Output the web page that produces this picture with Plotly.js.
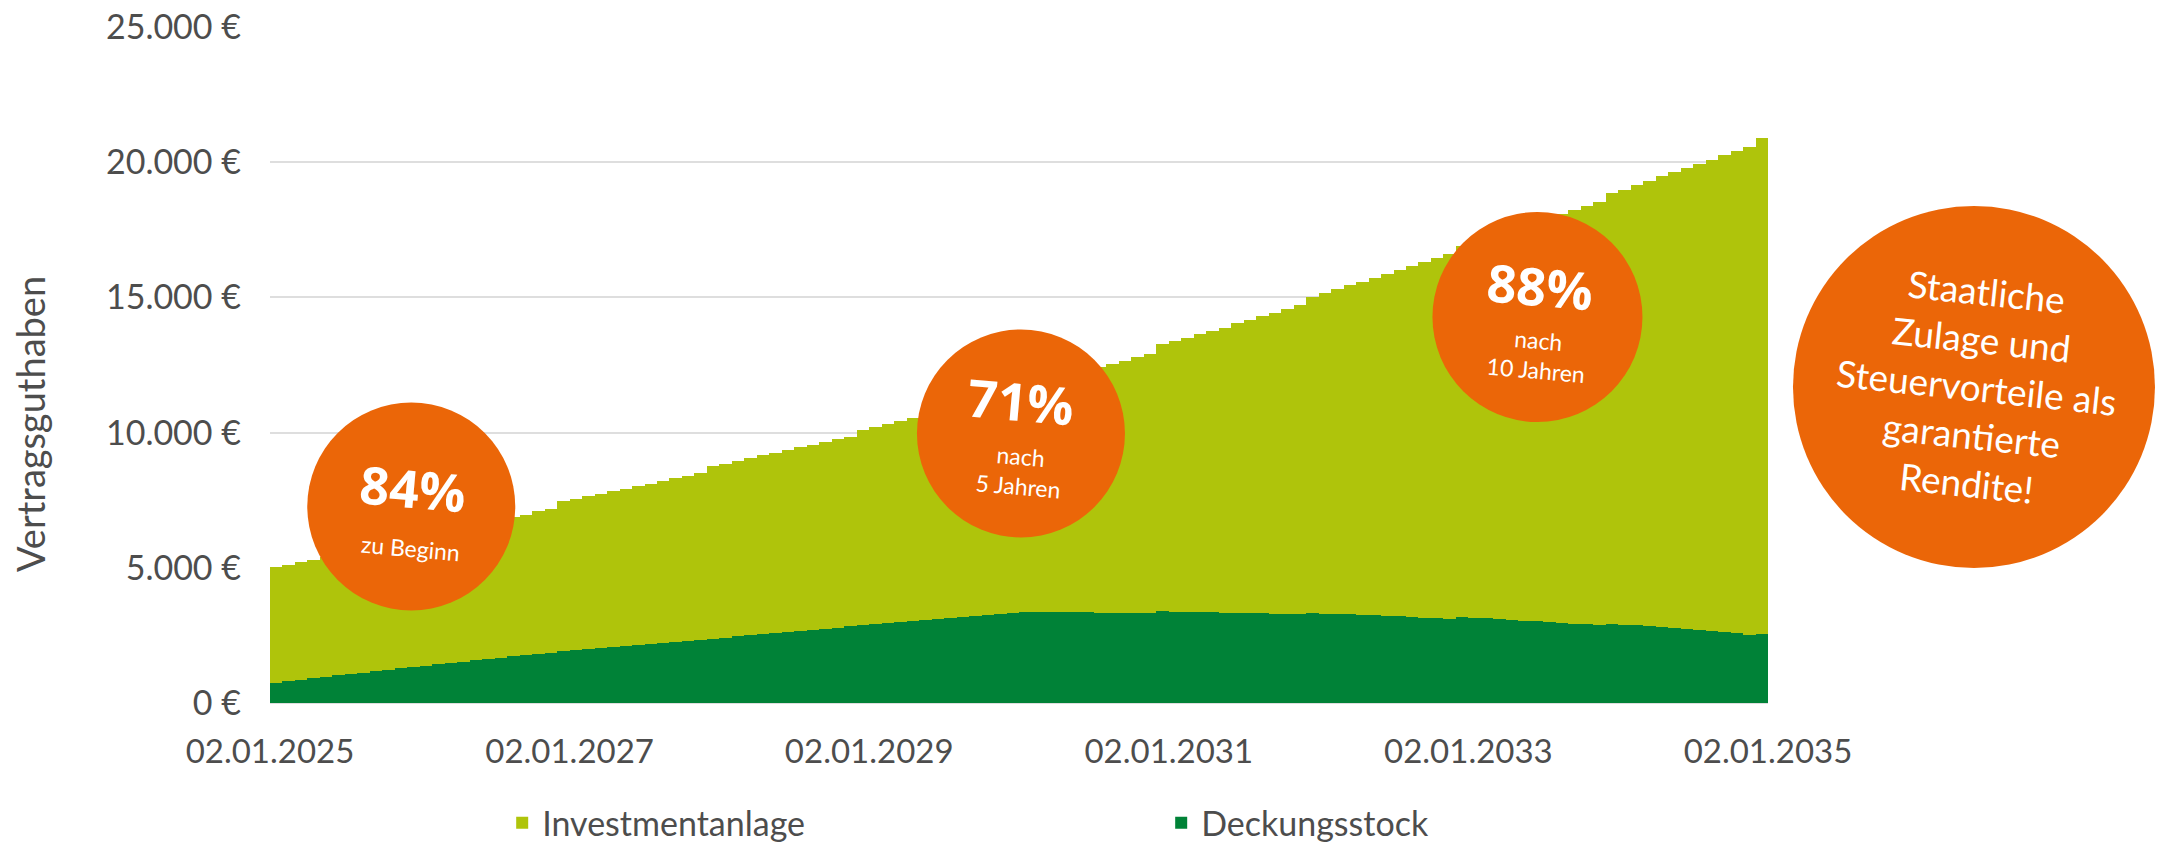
<!DOCTYPE html>
<html><head><meta charset="utf-8">
<script src="https://cdn.plot.ly/plotly-3.0.1.min.js"></script>
<style>html,body{margin:0;padding:0;background:#fff;} #chart{width:2164px;height:843px;}</style>
</head><body><div id="chart"></div>
<script>
// x axis: 120 monthly bars, 02.01.2025 .. 02.01.2035
const tickMonths = [0, 24, 48, 72, 96, 120];
const tickLabels = ["02.01.2025", "02.01.2027", "02.01.2029", "02.01.2031", "02.01.2033", "02.01.2035"];

const yTickValues = [0, 5000, 10000, 15000, 20000, 25000];
const yTickLabels = ["0 €", "5.000 €", "10.000 €", "15.000 €", "20.000 €", "25.000 €"];
const yTitle = "Vertragsguthaben";

const seriesNames = ["Investmentanlage", "Deckungsstock"];

const deckungsstock = [
  751, 800, 862, 911, 960, 1022, 1083, 1120, 1169, 1231, 1280, 1329,
  1379, 1428, 1477, 1526, 1576, 1625, 1674, 1723, 1760, 1810, 1859, 1908,
  1948, 1987, 2026, 2065, 2104, 2143, 2182, 2221, 2260, 2298, 2336, 2376,
  2418, 2460, 2502, 2544, 2585, 2626, 2667, 2708, 2749, 2790, 2830, 2880,
  2920, 2960, 3000, 3040, 3078, 3114, 3150, 3185, 3218, 3250, 3280, 3340,
  3350, 3352, 3353, 3353, 3352, 3350, 3345, 3340, 3335, 3330, 3325, 3385,
  3380, 3372, 3364, 3355, 3346, 3336, 3326, 3315, 3304, 3292, 3280, 3330,
  3305, 3290, 3274, 3257, 3239, 3220, 3200, 3180, 3159, 3137, 3115, 3176,
  3152, 3127, 3101, 3075, 3048, 3020, 2992, 2963, 2934, 2905, 2880, 2930,
  2903, 2872, 2840, 2806, 2772, 2737, 2701, 2664, 2626, 2587, 2530, 2555
];

const investmentanlage = [
  4279, 4320, 4353, 4394, 4432, 4458, 4484, 4534, 4572, 4597, 4635, 4851,
  4888, 4926, 4964, 5002, 5039, 5077, 5115, 5153, 5205, 5275, 5326, 5547,
  5607, 5653, 5714, 5770, 5821, 5877, 5928, 5984, 6045, 6107, 6154, 6384,
  6432, 6485, 6543, 6611, 6655, 6714, 6783, 6842, 6911, 6965, 7025, 7225,
  7280, 7365, 7420, 7490, 7562, 7636, 7710, 7785, 7862, 7940, 8020, 8305,
  8405, 8513, 8622, 8732, 8843, 8955, 9075, 9195, 9320, 9450, 9600, 9890,
  10015, 10123, 10276, 10410, 10539, 10699, 10844, 10980, 11124, 11284, 11444, 11701,
  11862, 12010, 12174, 12327, 12493, 12660, 12817, 12984, 13153, 13323, 13492, 13724,
  13898, 14068, 14239, 14415, 14592, 14770, 14943, 15121, 15298, 15461, 15659, 15930,
  16079, 16295, 16474, 16668, 16849, 17046, 17230, 17426, 17637, 17835, 18050, 18358
];

// bubble labels
const bubbleBig = ["84%", "71%", "88%"];
const bubbleSmall = ["zu Beginn", "nach<br>5 Jahren", "nach<br>10 Jahren"];
const bubbleNote = "Staatliche<br>Zulage und<br>Steuervorteile als<br>garantierte<br>Rendite!";

const monthPos = deckungsstock.map((_, i) => i + 0.5);

const FONT = "Lato, 'Open Sans', sans-serif";
const GRAY = "#4d4d4d";
const ORANGE = "#EB6608";
const LIGHT = "#AFC40B";
const DARK = "#008237";

const traces = [
  {type: "bar", name: seriesNames[1], x: monthPos, y: deckungsstock, width: 1,
   marker: {color: DARK, line: {width: 0}}, hoverinfo: "y+name"},
  {type: "bar", name: seriesNames[0], x: monthPos, y: investmentanlage, width: 1,
   marker: {color: LIGHT, line: {width: 0}}, hoverinfo: "y+name"}
];

// circle placement in pixel-sized shapes anchored in paper coords
const circles = [
  {x: 0.0943, y: 0.2907, r: 104},
  {x: 0.5013, y: 0.3987, r: 104},
  {x: 0.8461, y: 0.5710, r: 105},
  {x: 1.1375, y: 0.4675, r: 181}
];
const shapes = circles.map(c => ({
  type: "circle", xref: "paper", yref: "paper",
  xsizemode: "pixel", ysizemode: "pixel",
  xanchor: c.x, yanchor: c.y,
  x0: -c.r, x1: c.r, y0: -c.r, y1: c.r,
  fillcolor: ORANGE, line: {width: 0}, layer: "above"
}));

const bigPos = [[0.0955, 0.3195], [0.5013, 0.4482], [0.8478, 0.6169]];
const smallPos = [[0.0941, 0.2293], [0.5000, 0.3432], [0.8458, 0.5148]];

const annotations = [];
bubbleBig.forEach((t, i) => annotations.push({
  xref: "paper", yref: "paper", x: bigPos[i][0], y: bigPos[i][1],
  text: t, showarrow: false, textangle: 5,
  font: {family: "'Open Sans', Lato, sans-serif", size: 52, color: "#ffffff", weight: 700},
  xanchor: "center", yanchor: "middle"
}));
bubbleSmall.forEach((t, i) => annotations.push({
  xref: "paper", yref: "paper", x: smallPos[i][0], y: smallPos[i][1],
  text: t, showarrow: false, textangle: 5,
  font: {family: FONT, size: 23, color: "#ffffff"},
  xanchor: "center", yanchor: "middle"
}));
annotations.push({
  xref: "paper", yref: "paper", x: 1.1389, y: 0.4675,
  text: bubbleNote, showarrow: false, textangle: 6,
  font: {family: FONT, size: 37, color: "#ffffff"},
  xanchor: "center", yanchor: "middle"
});
// y axis title, placed like the reference (below the vertical centre)
annotations.push({
  xref: "paper", yref: "paper", x: -0.1602, y: 0.4127,
  text: yTitle, showarrow: false, textangle: -90,
  font: {family: FONT, size: 38, color: GRAY},
  xanchor: "center", yanchor: "middle"
});

const layout = {
  width: 2164, height: 843,
  margin: {l: 270, r: 396, t: 27, b: 140, autoexpand: false},
  paper_bgcolor: "#ffffff", plot_bgcolor: "#ffffff",
  barmode: "stack", bargap: 0,
  font: {family: FONT, color: GRAY, size: 34},
  showlegend: true,
  legend: {
    orientation: "h", traceorder: "reversed",
    x: 0.155, xanchor: "left", y: -0.135, yanchor: "top",
    entrywidth: 614, entrywidthmode: "pixels",
    font: {family: FONT, size: 34, color: GRAY}
  },
  xaxis: {
    range: [0, 120], tickmode: "array", tickvals: tickMonths, ticktext: tickLabels,
    showgrid: false, zeroline: false, showline: false, ticks: "",
    ticklabelstandoff: 26, fixedrange: true,
    tickfont: {family: FONT, size: 33, color: GRAY}
  },
  yaxis: {
    range: [0, 25000], tickmode: "array", tickvals: yTickValues, ticktext: yTickLabels,
    showgrid: true, gridcolor: "#dedede", gridwidth: 2,
    zeroline: true, zerolinecolor: "#dedede", zerolinewidth: 2,
    showline: false, ticks: "", ticklabelstandoff: 28, fixedrange: true,
    tickfont: {family: FONT, size: 34, color: GRAY}
  },
  shapes: shapes,
  annotations: annotations
};

Plotly.newPlot("chart", traces, layout, {displayModeBar: false, staticPlot: true});
</script>
</body></html>
